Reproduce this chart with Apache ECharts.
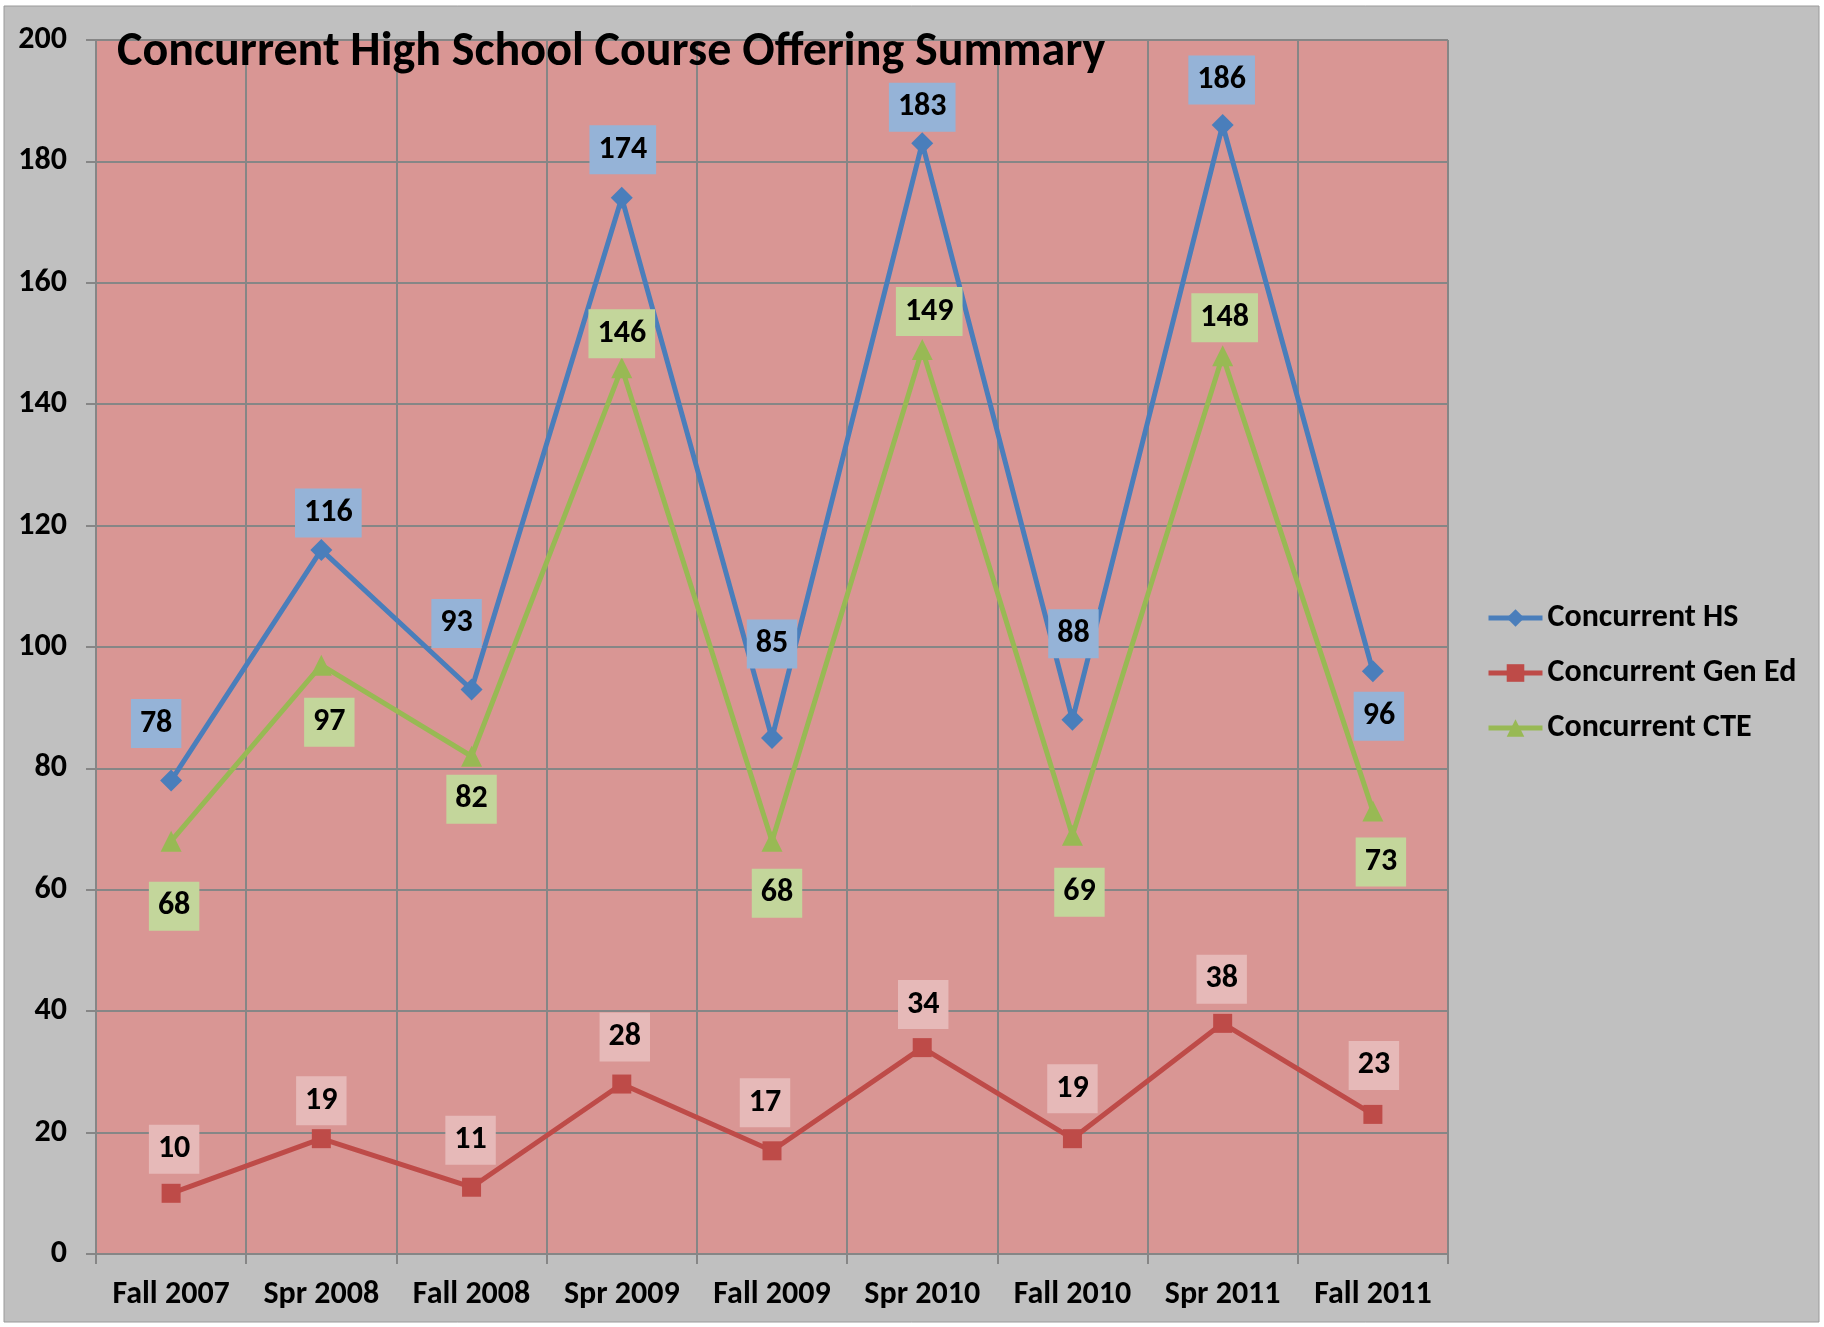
<!DOCTYPE html>
<html>
<head>
<meta charset="utf-8">
<title>Concurrent High School Course Offering Summary</title>
<script src="https://cdn.jsdelivr.net/npm/echarts@6/dist/echarts.min.js"></script>
<style>
  html, body { margin: 0; padding: 0; background: #fff; }
  #chart { width: 1824px; height: 1327px; }
</style>
</head>
<body>
<div id="chart"></div>
<script>
const FONT = "Carlito, Lato, 'Open Sans', sans-serif";

const terms = ["Fall 2007", "Spr 2008", "Fall 2008", "Spr 2009", "Fall 2009",
               "Spr 2010", "Fall 2010", "Spr 2011", "Fall 2011"];
const hsCounts = [78, 116, 93, 174, 85, 183, 88, 186, 96];
const genEdCounts = [10, 19, 11, 28, 17, 34, 19, 38, 23];
const cteCounts = [68, 97, 82, 146, 68, 149, 69, 148, 73];

// where each value label sits relative to its point (px)
const hsLabelShift = [[-15, -57], [7, -37], [-15, -66], [1, -48], [0, -94], [0, -36], [1, -86], [-1, -45], [6, 45]];
const genEdLabelShift = [[3, -44], [0, -38], [-1, -47], [3, -47], [-7, -48], [1, -43], [0, -50], [-1, -44], [1, -49]];
const cteLabelShift = [[3, 65], [8, 57], [0, 43], [0, -34], [5, 52], [7, -38], [7, 57], [2, -38], [8, 51]];

const chart = echarts.init(document.getElementById("chart"));

function makeSeries(name, values, shifts, color, labelBg, symbol, symbolSize) {
    return {
        name: name,
        type: "line",
        symbol: symbol,
        symbolSize: symbolSize,
        itemStyle: { color: color },
        lineStyle: { color: color, width: 5 },
        z: 3,
        label: {
            show: true,
            position: "inside",
            color: "#000",
            fontFamily: FONT,
            fontWeight: "bold",
            fontSize: 32,
            lineHeight: 32,
            backgroundColor: labelBg,
            padding: [9, 9, 8, 9]
        },
        data: values.map((v, i) => ({ value: v, label: { offset: shifts[i] } }))
    };
}

const gridGray = "#868686";

chart.setOption({
    animation: false,
    backgroundColor: "#fff",
    textStyle: { fontFamily: FONT },
    graphic: [{
        type: "rect",
        z: -10,
        shape: { x: 4, y: 6, width: 1815, height: 1316 },
        style: { fill: "#c0c0c0", stroke: "#9a9a9a", lineWidth: 1 }
    }],
    title: {
        text: "Concurrent High School Course Offering Summary",
        left: 112,
        top: 24,
        textStyle: { fontFamily: FONT, fontWeight: "bold", fontSize: 48, color: "#000" },
        z: 10
    },
    legend: {
        orient: "vertical",
        left: 1481,
        top: 595,
        itemWidth: 54,
        itemHeight: 22,
        itemGap: 19,
        lineStyle: { width: 5 },
        textStyle: { fontFamily: FONT, fontWeight: "bold", fontSize: 32, color: "#000", lineHeight: 36 },
        data: ["Concurrent HS", "Concurrent Gen Ed", "Concurrent CTE"]
    },
    grid: {
        left: 96,
        right: 376,
        top: 40,
        bottom: 73,
        show: true,
        backgroundColor: "#d99694",
        borderWidth: 0
    },
    xAxis: {
        type: "category",
        data: terms,
        boundaryGap: true,
        axisLine: { lineStyle: { color: gridGray, width: 2 } },
        axisTick: { show: true, interval: 0, length: 10, lineStyle: { color: gridGray, width: 2 } },
        splitLine: { show: true, interval: 0, lineStyle: { color: gridGray, width: 2 } },
        axisLabel: { interval: 0, margin: 25, color: "#000", fontFamily: FONT, fontWeight: "bold", fontSize: 32 }
    },
    yAxis: {
        type: "value",
        min: 0,
        max: 200,
        interval: 20,
        axisLine: { show: true, lineStyle: { color: gridGray, width: 2 } },
        axisTick: { show: true, length: 10, lineStyle: { color: gridGray, width: 2 } },
        splitLine: { show: true, lineStyle: { color: gridGray, width: 2 } },
        axisLabel: { margin: 29, color: "#000", fontFamily: FONT, fontWeight: "bold", fontSize: 32 }
    },
    series: [
        makeSeries("Concurrent HS", hsCounts, hsLabelShift, "#4a7ebb", "#95b3d7", "diamond", 22),
        makeSeries("Concurrent Gen Ed", genEdCounts, genEdLabelShift, "#be4b48", "#e6b9b8", "rect", 19),
        makeSeries("Concurrent CTE", cteCounts, cteLabelShift, "#98b954", "#c3d69b", "triangle", 21)
    ]
});
</script>
</body>
</html>
